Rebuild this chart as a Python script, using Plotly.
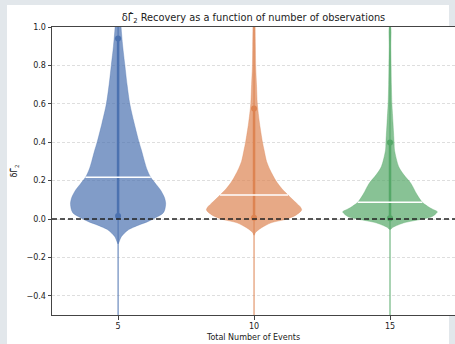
import numpy as np
import plotly.graph_objects as go

# ---- data ----
events = [5, 10, 15]
colors = ["#4C72B0", "#DD8452", "#55A868"]
fills = ["rgba(76,114,176,0.70)", "rgba(221,132,82,0.70)", "rgba(85,168,104,0.70)"]

# violin density profiles: y levels and half-widths (x-axis units)
blue_y = [-0.13, -0.118, -0.092, -0.057, -0.031, -0.015, 0.0, 0.03, 0.05, 0.082, 0.11, 0.151,
          0.18, 0.217, 0.255, 0.30, 0.358, 0.40, 0.50, 0.60, 0.70, 0.80, 0.90, 1.0, 1.1, 1.2]
blue_w = [0.0, 0.04, 0.12, 0.37, 0.77, 1.07, 1.29, 1.65, 1.72, 1.75, 1.71, 1.56,
          1.40, 1.20, 1.07, 0.97, 0.86, 0.77, 0.59, 0.43, 0.33, 0.25, 0.17, 0.11, 0.07, 0.04]

orange_y = [-0.085, -0.07, -0.047, -0.02, 0.0, 0.02, 0.047, 0.065, 0.08, 0.10, 0.125, 0.16,
            0.2, 0.255, 0.3, 0.358, 0.4, 0.5, 0.6, 0.7, 0.8, 0.9, 1.0, 1.1]
orange_w = [0.0, 0.055, 0.26, 0.625, 1.21, 1.54, 1.75, 1.69, 1.58, 1.43, 1.25, 1.01,
            0.80, 0.59, 0.46, 0.37, 0.31, 0.20, 0.12, 0.09, 0.06, 0.05, 0.04, 0.03]

green_y = [-0.055, -0.043, -0.02, 0.0, 0.01, 0.025, 0.038, 0.05, 0.06, 0.087, 0.13, 0.185,
           0.23, 0.272, 0.358, 0.4, 0.5, 0.6, 0.7, 0.8, 0.9, 1.0]
green_w = [0.0, 0.11, 0.51, 1.21, 1.51, 1.67, 1.74, 1.58, 1.45, 1.19, 0.98, 0.77,
           0.51, 0.32, 0.165, 0.15, 0.11, 0.07, 0.05, 0.04, 0.03, 0.02]

medians = [0.217, 0.125, 0.087]
q_low = [0.015, 0.007, 0.004]
q_high = [0.94, 0.575, 0.398]
mins = [-0.62, -0.58, -0.60]
maxs = [1.5, 1.3, 1.2]

y_ticks = [-0.4, -0.2, 0.0, 0.2, 0.4, 0.6, 0.8, 1.0]

profiles = [(blue_y, blue_w), (orange_y, orange_w), (green_y, green_w)]

fig = go.Figure()

for i, (c, (py, pw)) in enumerate(zip(events, profiles)):
    py = np.array(py)
    pw = np.array(pw)
    xs = np.concatenate([c + pw, (c - pw)[::-1]])
    ys = np.concatenate([py, py[::-1]])
    fig.add_trace(go.Scatter(x=xs, y=ys, mode="lines", fill="toself",
                             fillcolor=fills[i], line=dict(color=fills[i], width=0.5,
                                                           shape="spline", smoothing=0.8),
                             hoverinfo="skip", showlegend=False))
    # thin extrema line
    fig.add_trace(go.Scatter(x=[c, c], y=[mins[i], maxs[i]], mode="lines",
                             line=dict(color=colors[i], width=1), showlegend=False))
    # thick quantile line with end dots
    fig.add_trace(go.Scatter(x=[c, c], y=[q_low[i], q_high[i]], mode="lines+markers",
                             line=dict(color=colors[i], width=2.5),
                             marker=dict(color=colors[i], size=6), showlegend=False))
    # white median line
    hw = float(np.interp(medians[i], py, pw))
    fig.add_trace(go.Scatter(x=[c - hw, c + hw], y=[medians[i], medians[i]], mode="lines",
                             line=dict(color="white", width=1.5), showlegend=False))

# dashed zero line
fig.add_hline(y=0, line=dict(color="#222222", width=1.5, dash="5px,3px"))

# figure frame: gray border with white panel
fig.add_shape(type="rect", xref="paper", yref="paper",
              x0=(7 - 52) / 403, x1=(449 - 52) / 403,
              y0=(315 - 344) / 288, y1=(315 - 5) / 288,
              fillcolor="white", line=dict(width=0), layer="below")

font = dict(family="DejaVu Sans", size=8, color="#222222")

fig.update_layout(
    width=455, height=344,
    margin=dict(l=52, r=0, t=27, b=29),
    paper_bgcolor="#e2e7eb", plot_bgcolor="white",
    font=font,
    title=dict(text="δΓ̂<sub>2</sub> Recovery as a function of number of observations",
               x=(253.5) / 455, xref="container", xanchor="center",
               y=1 - 18 / 344, yref="container", yanchor="middle",
               font=dict(family="DejaVu Sans", size=9.8, color="#222222")),
    showlegend=False,
)
fig.update_xaxes(range=[2.57, 17.39], tickvals=events, ticktext=[str(e) for e in events],
                 showgrid=False, zeroline=False, showline=True, linecolor="#444444",
                 linewidth=1, mirror=True, ticks="outside", ticklen=3.5, tickcolor="#444444",
                 title=dict(text="Total Number of Events", standoff=4, font=font),
                 tickfont=font)
fig.update_yaxes(range=[-0.5, 1.0], tickvals=y_ticks, tickformat=".1f",
                 showgrid=True, gridcolor="#dedede", griddash="3px,2px", gridwidth=0.8,
                 zeroline=False, showline=True, linecolor="#444444", linewidth=1,
                 ticks="outside", ticklen=3.5, tickcolor="#444444",
                 title=dict(text="δΓ̂<sub>2</sub>", standoff=7, font=font),
                 tickfont=font)

fig.write_html("out.html")
